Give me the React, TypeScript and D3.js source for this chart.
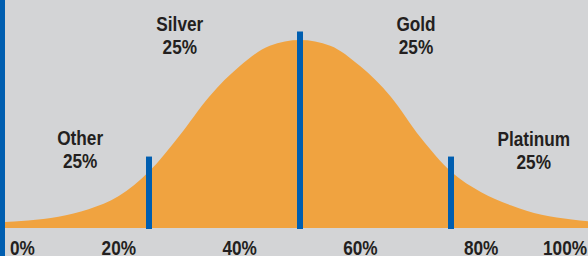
import React from "react";
import * as d3 from "d3";

const W = 588;
const H = 256;

// Bell curve heights (relative, peak = 100) read at each percentile
const curvePercents = [0, 5, 10, 15, 20, 25, 30, 35, 40, 45, 50, 55, 60, 65, 70, 75, 80, 85, 90, 95, 100];
const curveHeights = [3, 4, 6, 10, 17, 30, 49, 70, 86, 97, 100, 97, 86, 70, 48, 30, 19, 12, 7, 4.5, 3];

// Divider markers
const dividerPercents = [25, 50, 75];
const dividerHeights = [38, 104.5, 38];

// Segment labels
const segmentNames = ["Other", "Silver", "Gold", "Platinum"];
const segmentShares = ["25%", "25%", "25%", "25%"];
const segmentCenters = [13.6, 30.1, 69.2, 88.7]; // percentile position of label centre
const segmentLevels = [44, 104.8, 104.8, 43.6]; // label baseline height (curve units)

const tickValues = [0, 20, 40, 60, 80, 100];
const tickLabels = ["0%", "20%", "40%", "60%", "80%", "100%"];

const FONT = "'Liberation Sans', Arial, sans-serif";
const SQUEEZE = 0.82;

function NarrowText({ x, y, anchor, children }: { x: number; y: number; anchor: string; children: React.ReactNode }) {
  return (
    <g transform={`translate(${x},${y}) scale(${SQUEEZE},1)`}>
      <text
        x={0}
        y={0}
        textAnchor={anchor}
        fontFamily={FONT}
        fontWeight="bold"
        fontSize={21}
        fill="#231f20"
      >
        {children}
      </text>
    </g>
  );
}

export default function App() {
  const x = d3.scaleLinear().domain([0, 100]).range([-2, 602]);
  const y = d3.scaleLinear().domain([0, 100]).range([228, 40]);

  const data = curvePercents.map((p, i) => ({ p, v: curveHeights[i] }));
  const area = d3
    .area<{ p: number; v: number }>()
    .x((d) => x(d.p))
    .y0(y(0))
    .y1((d) => y(d.v))
    .curve(d3.curveMonotoneX);

  return (
    <svg
      width={W}
      height={H}
      style={{ position: "absolute", left: 0, top: 0, display: "block" }}
    >
      <rect x={0} y={0} width={W} height={H} fill="#d3d4d6" />
      <path d={area(data) || ""} fill="#f0a340" />
      {dividerPercents.map((p, i) => (
        <line
          key={p}
          x1={x(p)}
          x2={x(p)}
          y1={y(0) + 1}
          y2={y(dividerHeights[i])}
          stroke="#005eb0"
          strokeWidth={6}
        />
      ))}
      <line x1={2.5} x2={2.5} y1={0} y2={H} stroke="#005eb0" strokeWidth={5} />
      {segmentNames.map((name, i) => (
        <g key={name}>
          <NarrowText x={x(segmentCenters[i])} y={y(segmentLevels[i])} anchor="middle">
            {name}
          </NarrowText>
          <NarrowText x={x(segmentCenters[i])} y={y(segmentLevels[i]) + 23} anchor="middle">
            {segmentShares[i]}
          </NarrowText>
        </g>
      ))}
      {tickValues.map((t, i) => {
        const px = x(t);
        const last = tickValues.length - 1;
        const anchor = i === 0 ? "start" : i === last ? "end" : "middle";
        const tx = i === 0 ? Math.max(px, 10) : i === last ? Math.min(px, 587) : px;
        return (
          <NarrowText key={t} x={tx} y={254.5} anchor={anchor}>
            {tickLabels[i]}
          </NarrowText>
        );
      })}
    </svg>
  );
}
